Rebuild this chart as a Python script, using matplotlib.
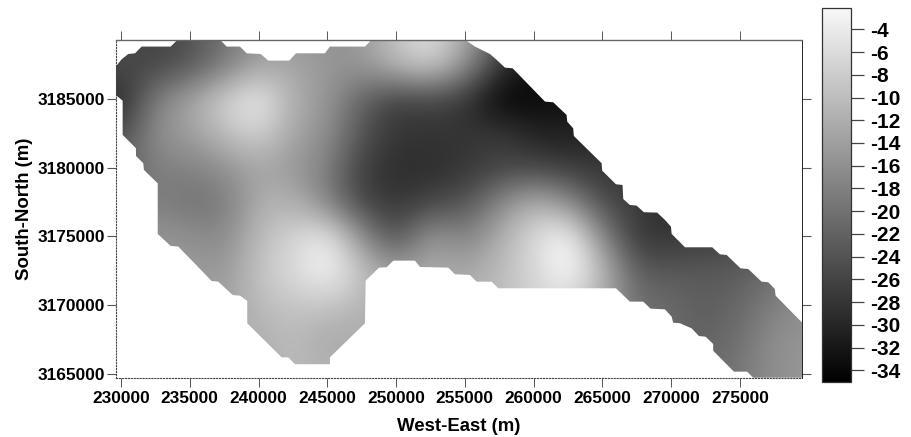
import numpy as np
import matplotlib
matplotlib.use('Agg')
import matplotlib.pyplot as plt
from matplotlib.colors import LinearSegmentedColormap
from matplotlib.patches import Polygon

plt.rcParams['font.family'] = ['Liberation Sans', 'DejaVu Sans']
plt.rcParams['font.weight'] = 'bold'

# grid, 2500 m spacing
grid_x = np.arange(230000, 280001, 2500)
grid_y = np.arange(3165000, 3190001, 2500)

z_3165000 = [-13, -13, -13, -13, -12, -10, -11, -13, -13, -12, -12, -10, -8, -8, -14, -20, -21, -21, -19, -16, -15]
z_3167500 = [-13, -13, -13, -13, -12, -10, -13, -12, -13, -12, -12, -10, -8, -8, -14, -20, -21, -22, -20, -16, -15]
z_3170000 = [-14, -14, -14, -14, -10, -9, -9, -11, -13, -12, -12, -10, -7, -7, -13, -20, -21, -23, -21, -18, -16]
z_3172500 = [-15, -15, -14, -15, -9, -6, -2, -9, -14, -12, -13, -10, -7, -1, -10, -23, -23, -23, -23, -20, -19]
z_3175000 = [-16, -15, -16, -17, -10, -7, -3, -16, -25, -14, -18, -12, -6, -1, -17, -28, -28, -27, -26, -25, -24]
z_3177500 = [-20, -18, -20, -19, -12, -11, -18, -26, -28, -26, -24, -17, -11, -16, -25, -27, -29, -27, -26, -25, -24]
z_3180000 = [-22, -18, -18, -16, -13, -15, -18, -27, -29, -29, -28, -26, -26, -27, -28, -28, -28, -27, -26, -25, -25]
z_3182500 = [-25, -16, -14, -10, -7, -13, -16, -24, -28, -28, -28, -27, -30, -31, -29, -28, -27, -27, -26, -25, -25]
z_3185000 = [-30, -18, -13, -7, -3, -12, -15, -22, -27, -26, -28, -35, -34, -33, -30, -28, -28, -27, -26, -25, -25]
z_3187500 = [-25, -26, -24, -19, -13, -13, -15, -15, -10, -7, -15, -28, -33, -32, -30, -28, -28, -27, -26, -25, -25]
z_3190000 = [-25, -26, -24, -20, -16, -15, -16, -15, -9, -5, -12, -22, -30, -30, -30, -28, -28, -27, -26, -25, -25]

# outline of the surveyed area, clockwise from the upper left
boundary_x = [229615, 230050, 230530, 231020, 231500, 233610, 234120, 237200, 237680, 238650,
              239140, 240160, 240710, 242240, 242720, 244830, 245190, 247740, 248230, 255010,
              255740, 256830, 257320, 257920, 258480, 260830, 261430, 262400, 262450, 262880,
              262930, 264950, 264990, 265990, 266470, 266520, 267000, 267490, 268020, 268990,
              269550, 269990, 270040, 271010, 272990, 273550, 274040, 275050, 275610, 276580,
              277060, 277540, 277600, 279530, 279530, 275970, 275530, 274570, 273060, 273060,
              272510, 272020, 271490, 270640, 270150, 270040, 269550, 268510, 267970, 267000,
              265990, 257430, 256950, 255860, 255370, 254280, 253800, 251740, 251370, 249800,
              249320, 248760, 247790, 247740, 245190, 245190, 242650, 242160, 241680, 239180,
              239180, 238650, 238120, 237070, 236590, 234170, 233610, 232670, 232670, 231670,
              231620, 231090, 231090, 230120, 230120, 229615]
boundary_y = [3187340, 3187880, 3188260, 3188310, 3188800, 3188800, 3189300, 3189300, 3188800, 3188800,
              3188310, 3188260, 3187780, 3187780, 3188310, 3188310, 3188800, 3188800, 3189300, 3189300,
              3188800, 3188260, 3187830, 3187270, 3187220, 3184800, 3184750, 3183830, 3183340, 3182860,
              3182300, 3180320, 3179780, 3178790, 3178740, 3177720, 3177290, 3177240, 3176760, 3176730,
              3176200, 3175710, 3175180, 3174210, 3174210, 3173700, 3173650, 3172680, 3172630, 3171710,
              3171670, 3171180, 3170690, 3168730, 3164730, 3164730, 3165170, 3165170, 3166690, 3167180,
              3167710, 3167760, 3168320, 3168690, 3168730, 3169170, 3169700, 3169750, 3170260, 3170260,
              3171230, 3171230, 3171710, 3171710, 3172200, 3172250, 3172730, 3172780, 3173240, 3173240,
              3172760, 3172730, 3171780, 3168690, 3166210, 3165710, 3165710, 3166210, 3166210, 3168690,
              3170310, 3170690, 3170740, 3171710, 3171760, 3174260, 3174310, 3175180, 3178860, 3179830,
              3180320, 3180850, 3181410, 3182380, 3184870, 3185280]

x_ticks = [230000, 235000, 240000, 245000, 250000, 255000, 260000, 265000, 270000, 275000]
y_ticks = [3165000, 3170000, 3175000, 3180000, 3185000]
cbar_ticks = [-4, -6, -8, -10, -12, -14, -16, -18, -20, -22, -24, -26, -28, -30, -32, -34]

z = np.array([z_3165000, z_3167500, z_3170000, z_3172500, z_3175000, z_3177500,
              z_3180000, z_3182500, z_3185000, z_3187500, z_3190000], dtype=float)

W, H = 912, 437
fig = plt.figure(figsize=(W / 100, H / 100), dpi=100)
ax = fig.add_axes([115.7 / W, 1 - 377.7 / H, (802.3 - 115.7) / W, (377.7 - 39.7) / H])
cax = fig.add_axes([821.7 / W, 1 - 381.7 / H, 29 / W, 373.4 / H])

cmap = LinearSegmentedColormap.from_list('grey_map', ['#000000', '#f8f8f8'])
extent = [grid_x[0] - 1250, grid_x[-1] + 1250, grid_y[0] - 1250, grid_y[-1] + 1250]
im = ax.imshow(z, origin='lower', extent=extent, cmap=cmap, vmin=-35, vmax=-2.15,
               interpolation='bicubic', aspect='auto')
outline = Polygon(np.column_stack([boundary_x, boundary_y]), closed=True, transform=ax.transData)
im.set_clip_path(outline)

ax.set_xlim(229615, 279540)
ax.set_ylim(3164730, 3189300)

ax.set_xticks(x_ticks)
ax.set_yticks(y_ticks)
ax.tick_params(axis='x', which='both', top=True, direction='out', length=6.3, width=0.7,
               color='#555555', labelsize=12.4, pad=3)
ax.tick_params(axis='y', which='both', right=True, direction='out', length=6.3, width=0.8,
               color='#555555', labelsize=12.4, pad=1.5)
ax.ticklabel_format(style='plain', useOffset=False)
ax.set_xlabel('West-East (m)', fontsize=13.4, fontweight='bold', labelpad=9)
ax.set_ylabel('South-North (m)', fontsize=13.4, fontweight='bold', labelpad=3.5)

for side in ['left', 'bottom']:
    ax.spines[side].set_linestyle(':')
    ax.spines[side].set_linewidth(0.8)
    ax.spines[side].set_color('#444444')
ax.spines['top'].set_linewidth(1.0)
ax.spines['top'].set_color('#666666')
ax.spines['right'].set_linewidth(0.7)
ax.spines['right'].set_color('#222222')

cb = fig.colorbar(im, cax=cax)
cb.set_ticks(cbar_ticks)
cb.set_ticklabels(['%d' % t for t in cbar_ticks])
cb.minorticks_off()
cb.outline.set_linewidth(0.9)
cb.outline.set_edgecolor('#333333')
cax.yaxis.set_ticks_position('right')
cax.yaxis.set_tick_params(which='major', direction='out', length=9, width=0.9, color='#444444',
                          labelsize=15, pad=5)

plt.savefig('out.png', dpi=100)
plt.close('all')
